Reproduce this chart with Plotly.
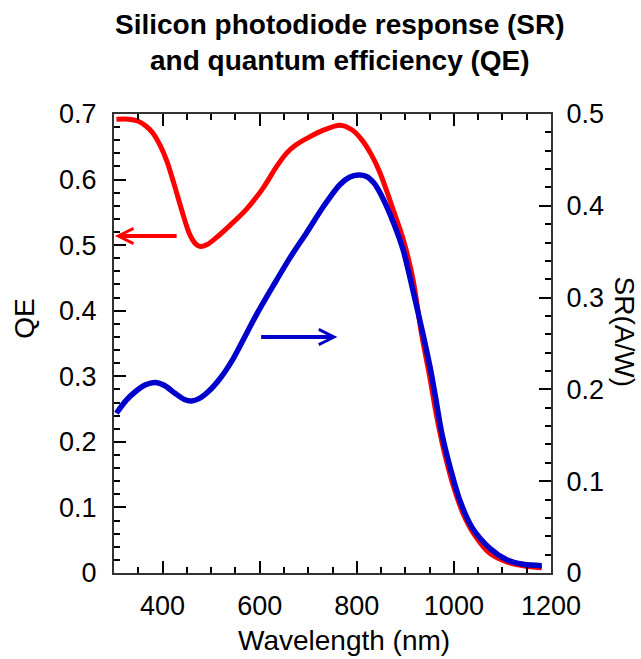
import plotly.graph_objects as go

# Quantum efficiency (left axis)
qe_wl = [305, 330, 350, 365, 380, 395, 410, 425, 440, 455, 468, 478, 492, 510, 540,
         573, 607, 635, 655, 675, 700, 730, 765, 790, 810, 830, 848, 875, 896, 916,
         934, 950, 965, 980, 1000, 1020, 1040, 1074, 1109, 1143, 1181]
qe_val = [0.692, 0.692, 0.689, 0.682, 0.671, 0.652, 0.626, 0.590, 0.552, 0.518, 0.502, 0.498, 0.501, 0.511, 0.531,
          0.555, 0.587, 0.620, 0.640, 0.653, 0.664, 0.675, 0.683, 0.676, 0.661, 0.638, 0.610, 0.554, 0.508, 0.447,
          0.362, 0.300, 0.237, 0.185, 0.130, 0.089, 0.061, 0.030, 0.017, 0.011, 0.008]

# Spectral response (right axis)
sr_wl = [305, 325, 345, 365, 385, 405, 425, 445, 460, 475, 495, 520, 545, 570, 594,
         628, 662, 697, 731, 765, 785, 803, 820, 835, 850, 876, 896, 916, 936, 951,
         963, 975, 992, 1012, 1037, 1074, 1109, 1143, 1181]
sr_val = [0.174, 0.188, 0.198, 0.205, 0.2075, 0.204, 0.196, 0.189, 0.1875, 0.190, 0.198, 0.213, 0.233, 0.258, 0.282,
          0.313, 0.343, 0.371, 0.399, 0.423, 0.431, 0.4335, 0.432, 0.425, 0.412, 0.381, 0.351, 0.307, 0.261, 0.224,
          0.189, 0.1525, 0.1155, 0.0795, 0.050, 0.027, 0.0145, 0.0095, 0.008]

x_ticks = [400, 600, 800, 1000, 1200]

# arrows: [tail_x, head_x, y]
red_arrow = [432, 302, 0.514]
blue_arrow = [600, 760, 0.257]

FONT = "Liberation Sans, Arial, sans-serif"
RED = "#ff0000"
BLUE = "#0000cc"
AX = "#333333"

fig = go.Figure()
fig.add_trace(go.Scatter(x=qe_wl, y=qe_val, mode="lines", yaxis="y",
                         line=dict(color=RED, width=5, shape="spline", smoothing=0.8),
                         showlegend=False, hoverinfo="skip"))
fig.add_trace(go.Scatter(x=sr_wl, y=sr_val, mode="lines", yaxis="y2",
                         line=dict(color=BLUE, width=5.5, shape="spline", smoothing=0.8),
                         showlegend=False, hoverinfo="skip"))

tickfont = dict(family=FONT, size=27, color="black")

fig.update_layout(
    width=641, height=659,
    margin=dict(l=114, r=90, t=114, b=86),
    paper_bgcolor="white", plot_bgcolor="white",
    xaxis=dict(range=[300, 1200], tickvals=x_ticks, ticks="inside", ticklen=12, tickwidth=1.5,
               tickcolor="black", showline=True, linecolor=AX, linewidth=2, mirror="ticks",
               showgrid=False, zeroline=False, tickfont=tickfont, ticklabelstandoff=8,
               minor=dict(dtick=50, tick0=0, ticks="inside", ticklen=6, tickwidth=1.5,
                          tickcolor="black", showgrid=False)),
    yaxis=dict(range=[0, 0.7], dtick=0.1, tick0=0, ticks="inside", ticklen=12, tickwidth=1.5,
               tickcolor="black", showline=True, linecolor=AX, linewidth=2, mirror=False,
               showgrid=False, zeroline=False, tickfont=tickfont, ticklabelstandoff=10,
               minor=dict(dtick=0.02, tick0=0, ticks="inside", ticklen=6, tickwidth=1.5,
                          tickcolor="black", showgrid=False)),
    yaxis2=dict(range=[0, 0.5], dtick=0.1, tick0=0, overlaying="y", side="right",
                ticks="inside", ticklen=12, tickwidth=1.5, tickcolor="black",
                showline=True, linecolor=AX, linewidth=2, showgrid=False, zeroline=False,
                tickfont=tickfont, ticklabelstandoff=8,
                minor=dict(dtick=0.02, tick0=0, ticks="inside", ticklen=6, tickwidth=1.5,
                           tickcolor="black", showgrid=False)),
)

fig.add_annotation(text="<b>Silicon photodiode response (SR)<br>and quantum efficiency (QE)</b>",
                   xref="paper", yref="paper", x=0.517, y=1.156, xanchor="center", yanchor="middle",
                   showarrow=False, font=dict(family=FONT, size=28, color="black"))

axis_title_font = dict(family=FONT, size=28, color="black")
fig.add_annotation(text="Wavelength (nm)", xref="paper", yref="paper", x=0.527, y=-0.146,
                   xanchor="center", yanchor="middle", showarrow=False, font=axis_title_font)
fig.add_annotation(text="QE", xref="paper", yref="paper", x=-0.205, y=0.555,
                   xanchor="center", yanchor="middle", textangle=-90, showarrow=False,
                   font=axis_title_font)
fig.add_annotation(text="SR(A/W)", xref="paper", yref="paper", x=1.167, y=0.526,
                   xanchor="center", yanchor="middle", textangle=90, showarrow=False,
                   font=axis_title_font)

fig.add_annotation(x=red_arrow[1], y=red_arrow[2], ax=red_arrow[0], ay=red_arrow[2],
                   xref="x", yref="y", axref="x", ayref="y", text="", showarrow=True,
                   arrowhead=5, arrowsize=0.75, arrowwidth=4, arrowcolor=RED)
fig.add_annotation(x=blue_arrow[1], y=blue_arrow[2], ax=blue_arrow[0], ay=blue_arrow[2],
                   xref="x", yref="y2", axref="x", ayref="y2", text="", showarrow=True,
                   arrowhead=5, arrowsize=0.75, arrowwidth=4, arrowcolor=BLUE)

fig.write_html("out.html")
